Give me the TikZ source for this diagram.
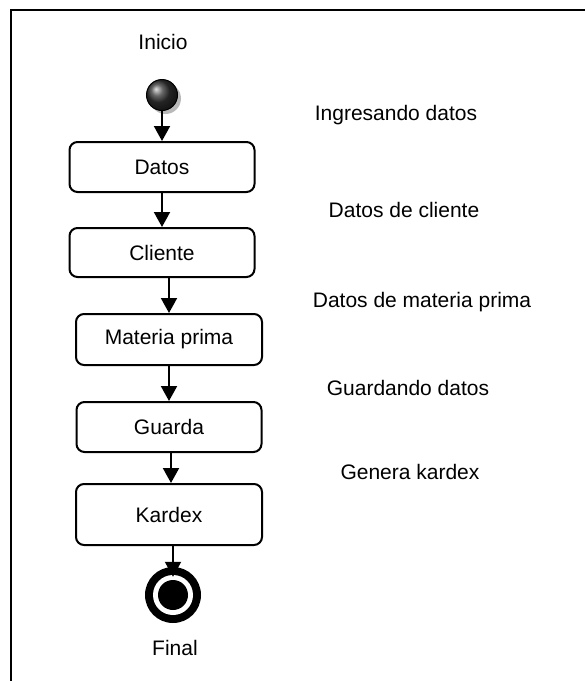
\documentclass[tikz,border=0pt]{standalone}
\usepackage{fontspec}
\setmainfont{Liberation Sans}
\usepackage{tikz}
\usetikzlibrary{arrows.meta,shapes,positioning,calc}

\begin{document}
\begin{tikzpicture}[
    x=1pt, y=-1pt,
    font=\fontsize{21}{24}\selectfont,
    state/.style={rectangle, draw, rounded corners=8pt, line width=2pt, minimum width=185pt, minimum height=50pt, inner sep=0pt},
    lbl/.style={inner sep=0pt},
    arrow/.style={-{Triangle[width=16pt,length=15pt]}, line width=2pt}
]
    \useasboundingbox (0,0) rectangle (585,681);

    % ============ Frame ============
    \draw[line width=2pt] (11,681) -- (11,10) -- (585,10);

    % ============ Start ============
    \node[lbl] (inicio) at (163,42) {Inicio};
    \fill[gray!55] (165.5,98.5) circle (15.5);
    \shade[ball color=black!80, draw=black, line width=1pt] (162,95) circle (15.5);
    \node[circle, minimum size=31pt, inner sep=0pt] (start) at (162,95) {};

    % ============ States ============
    \node[state] (datos) at (162,167) {Datos};
    \node[state, minimum height=49pt] (cliente) at (162,252.5) {Cliente};
    \node[state, minimum width=186pt, minimum height=51pt] (materia) at (169,339.5) {Materia prima};
    \node[state] (guarda) at (169,427) {Guarda};
    \node[state, minimum width=186pt, minimum height=61pt] (kardex) at (169,514.5) {Kardex};

    % ============ Final ============
    \fill[black] (173,595) circle (28);
    \fill[white] (173,595) circle (20);
    \fill[black] (173,595) circle (15);
    \node[circle, minimum size=56pt, inner sep=0pt] (fin) at (173,595) {};
    \node[lbl] (final) at (175,648) {Final};

    % ============ Transition labels ============
    \node[lbl] (t1) at (396,115) {Ingresando datos};
    \node[lbl] (t2) at (404,210) {Datos de cliente};
    \node[lbl] (t3) at (422,302) {Datos de materia prima};
    \node[lbl] (t4) at (408,388) {Guardando datos};
    \node[lbl] (t5) at (410,472) {Genera kardex};

    % ============ Connections ============
    \draw[arrow] (start.south) -- (datos.north);
    \draw[arrow] (datos.south) -- (cliente.north);
    \draw[arrow] (cliente.south -| materia.north) -- (materia.north);
    \draw[arrow] (materia.south) -- (guarda.north);
    \draw[arrow] (guarda.south -| 171,0) -- (kardex.north -| 171,0);
    \draw[arrow] (kardex.south -| fin.north) -- ($(fin.north)+(0,10)$);

\end{tikzpicture}
\end{document}
